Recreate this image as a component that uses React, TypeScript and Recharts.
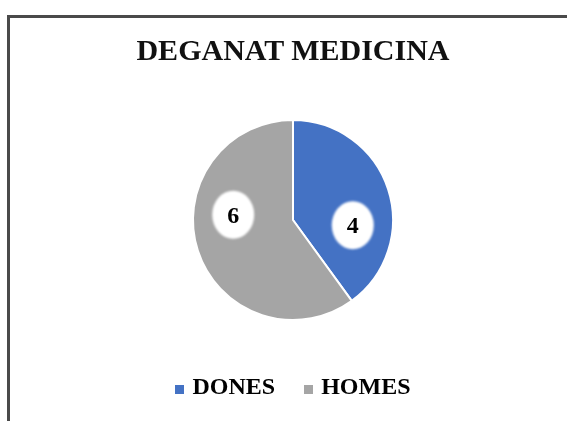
import { PieChart, Pie, Cell, Legend } from "recharts";

const categories = ["DONES", "HOMES"];
const values = [4, 6];
const colors = ["#4472C4", "#A5A5A5"];

const data = categories.map((name, i) => ({ name, value: values[i] }));

const RADIAN = Math.PI / 180;
const serif = '"Liberation Serif", "Times New Roman", serif';

function BubbleLabel(props: any) {
  const { cx, cy, midAngle, outerRadius, value } = props;
  // Excel's best-fit labels sit a bit clockwise of the slice middle
  const angle = (midAngle - 23) * RADIAN;
  const r = outerRadius * 0.6;
  const x = cx + r * Math.cos(angle);
  const y = cy - r * Math.sin(angle);
  return (
    <g>
      <ellipse cx={x} cy={y} rx={21} ry={24} fill="#fff" filter="url(#soft)" />
      <text
        x={x}
        y={y}
        textAnchor="middle"
        dominantBaseline="central"
        fontFamily={serif}
        fontWeight="bold"
        fontSize={24}
        fill="#000"
      >
        {value}
      </text>
    </g>
  );
}

function LegendContent({ payload }: any) {
  return (
    <div style={{ display: "flex", justifyContent: "center", gap: 29 }}>
      {(payload || []).map((p: any) => (
        <div key={p.value} style={{ display: "flex", alignItems: "center" }}>
          <span
            style={{
              display: "inline-block",
              width: 9,
              height: 9,
              background: p.color,
              marginRight: 8,
              marginTop: 6,
            }}
          />
          <span
            style={{
              fontFamily: serif,
              fontWeight: "bold",
              fontSize: 24,
              lineHeight: "28px",
              color: "#000",
            }}
          >
            {p.value}
          </span>
        </div>
      ))}
    </div>
  );
}

export default function App() {
  return (
    <div style={{ position: "relative", width: 551, height: 405 }}>
      <div
        style={{
          position: "fixed",
          left: 7,
          top: 15,
          width: 620,
          height: 500,
          borderTop: "3px solid #4a4a4a",
          borderLeft: "3px solid #4a4a4a",
        }}
      />
      <div
        style={{
          position: "absolute",
          left: 0,
          top: 27,
          width: 570,
          textAlign: "center",
          fontFamily: serif,
          fontWeight: "bold",
          fontSize: 30,
          lineHeight: "30px",
          color: "#111",
        }}
      >
        DEGANAT MEDICINA
      </div>
      <PieChart width={551} height={405} margin={{ top: 0, right: 0, bottom: 0, left: 0 }}>
        <defs>
          <filter id="soft" x="-20%" y="-20%" width="140%" height="140%">
            <feGaussianBlur stdDeviation="1.2" />
          </filter>
        </defs>
        <Pie
          data={data}
          dataKey="value"
          nameKey="name"
          cx={285}
          cy={212}
          outerRadius={100}
          startAngle={90}
          endAngle={-270}
          stroke="#fff"
          strokeWidth={2}
          label={BubbleLabel}
          labelLine={false}
          isAnimationActive={false}
        >
          {data.map((d, i) => (
            <Cell key={d.name} fill={colors[i]} />
          ))}
        </Pie>
        <Legend
          verticalAlign="bottom"
          content={LegendContent}
          wrapperStyle={{ top: 364, left: 0, width: 570 }}
        />
      </PieChart>
    </div>
  );
}
